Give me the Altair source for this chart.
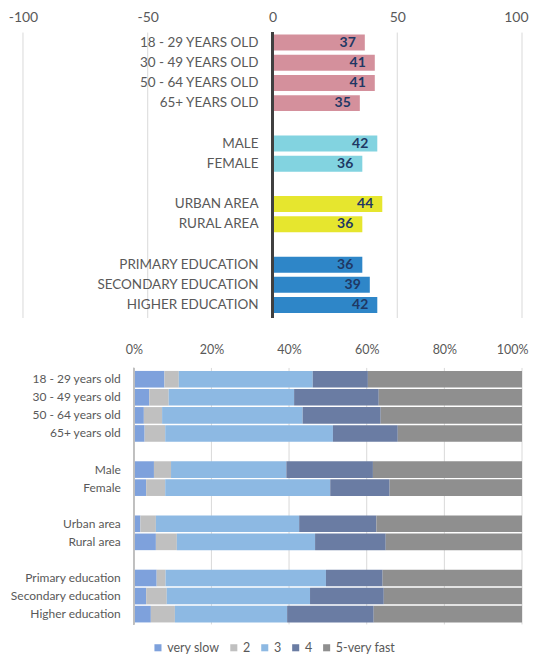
import altair as alt
import pandas as pd

# ---------------- data ----------------
top_labels = ["18 - 29 YEARS OLD", "30 - 49 YEARS OLD", "50 - 64 YEARS OLD", "65+ YEARS OLD",
              "MALE", "FEMALE", "URBAN AREA", "RURAL AREA",
              "PRIMARY EDUCATION", "SECONDARY EDUCATION", "HIGHER EDUCATION"]
top_values = [37, 41, 41, 35, 42, 36, 44, 36, 36, 39, 42]
top_groups = ["age", "age", "age", "age", "gender", "gender", "area", "area", "edu", "edu", "edu"]
group_names = ["age", "gender", "area", "edu"]
group_colors = ["#D4909C", "#82D3E0", "#E6E62E", "#2E86C8"]
top_ticks = [-100, -50, 0, 50, 100]

bottom_labels = ["18 - 29 years old", "30 - 49 years old", "50 - 64 years old", "65+ years old",
                 "Male", "Female", "Urban area", "Rural area",
                 "Primary education", "Secondary education", "Higher education"]
speed_levels = ["very slow", "2", "3", "4", "5-very fast"]
speed_colors = ["#7EA1DC", "#C0C0C0", "#8DB9E3", "#6A7CA3", "#8F8F8F"]
very_slow = [7.9, 4.0, 2.6, 2.8, 5.2, 3.2, 1.7, 5.7, 5.9, 3.2, 4.4]
level_2 = [3.7, 5.0, 4.7, 5.3, 4.4, 4.9, 4.0, 5.4, 2.3, 5.3, 6.2]
level_3 = [34.5, 32.3, 36.2, 43.2, 29.7, 42.5, 36.9, 35.6, 41.3, 36.9, 28.9]
level_4 = [14.2, 21.8, 20.1, 16.7, 22.3, 15.3, 19.9, 18.2, 14.6, 19.0, 22.3]
very_fast = [39.7, 36.9, 36.4, 32.0, 38.4, 34.1, 37.5, 35.1, 35.9, 35.6, 38.2]
bottom_ticks = [0, 0.2, 0.4, 0.6, 0.8, 1.0]

# slot order (with blank gap rows between groups)
def with_gaps(labels):
    return labels[:4] + ["gap1"] + labels[4:6] + ["gap2"] + labels[6:8] + ["gap3"] + labels[8:]

top_domain = with_gaps(top_labels)
bottom_domain = with_gaps(bottom_labels)

FONT = "Lato"
GREY = "#595959"
GRID = "#D9D9D9"

top_df = pd.DataFrame({"label": top_labels, "value": top_values, "group": top_groups})
top_grid_df = pd.DataFrame({"v": [t for t in top_ticks if t != 0]})

rows = []
series = [very_slow, level_2, level_3, level_4, very_fast]
for i, lab in enumerate(bottom_labels):
    for k, lev in enumerate(speed_levels):
        rows.append({"label": lab, "level": lev, "k": k, "pct": series[k][i]})
bottom_df = pd.DataFrame(rows)
bottom_lab_df = pd.DataFrame({"label": bottom_labels})
bottom_grid_df = pd.DataFrame({"v": [t for t in bottom_ticks if t != 0]})

# ---------------- top chart ----------------
W = 521
H_TOP = 312
xs_top = alt.Scale(domain=[-100, 100], range=[14, 514])
ys_top = alt.Scale(domain=top_domain, range=[24, 307], paddingInner=0.21, paddingOuter=0.1)

top_grid = alt.Chart(top_grid_df).mark_rule(color=GRID, strokeWidth=1).encode(
    x=alt.X("v:Q", scale=xs_top,
            axis=alt.Axis(orient="top", values=top_ticks, grid=False, domain=False, ticks=False,
                          offset=-16, labelPadding=0, labelFontSize=14, labelColor=GREY,
                          labelFont=FONT, labelFlush=False, title=None,
                          labelExpr="'' + datum.value",
                          labelAlign={"condition": {"test": "datum.value == 100", "value": "right"},
                                      "value": "center"},
                          labelOffset={"condition": {"test": "datum.value == 100", "value": 6},
                                       "value": 0})),
    y=alt.value(24), y2=alt.value(H_TOP - 2),
)

top_bars = alt.Chart(top_df).mark_bar().encode(
    x=alt.X("value:Q", scale=xs_top),
    y=alt.Y("label:N", scale=ys_top, axis=None),
    color=alt.Color("group:N", scale=alt.Scale(domain=group_names, range=group_colors), legend=None),
)

top_values_txt = alt.Chart(top_df).mark_text(align="right", baseline="middle", dx=-9, fontWeight="bold",
                                             fontSize=14, font=FONT, color="#1F3864").encode(
    x=alt.X("value:Q", scale=xs_top),
    y=alt.Y("label:N", scale=ys_top),
    text="value:Q",
)

top_cat_txt = alt.Chart(top_df).mark_text(align="right", baseline="middle", dx=-14,
                                          fontSize=13.5, font=FONT, color=GREY).encode(
    x=alt.datum(0, scale=xs_top),
    y=alt.Y("label:N", scale=ys_top),
    text="label:N",
)

top_zero = alt.Chart(top_df).mark_rule(color="#404040", strokeWidth=2.5).encode(
    x=alt.datum(0, scale=xs_top), y=alt.value(24), y2=alt.value(H_TOP - 2)
)

top = alt.layer(top_grid, top_bars, top_values_txt, top_cat_txt, top_zero).properties(
    width=W, height=H_TOP)

# ---------------- bottom chart ----------------
H_BOT = 287
xs_bot = alt.Scale(domain=[0, 1], range=[125, 514])
ys_bot = alt.Scale(domain=bottom_domain, range=[33, 285], paddingInner=0.08, paddingOuter=0)

bot_grid = alt.Chart(bottom_grid_df).mark_rule(color=GRID, strokeWidth=1).encode(
    x=alt.X("v:Q", scale=xs_bot,
            axis=alt.Axis(orient="top", values=bottom_ticks, format="%", grid=False, domain=False,
                          ticks=False, offset=-19, labelPadding=0, labelFontSize=12.5,
                          labelColor=GREY, labelFont=FONT, labelFlush=False, title=None,
                          labelAlign={"condition": {"test": "datum.value == 1", "value": "right"},
                                      "value": "center"},
                          labelOffset={"condition": {"test": "datum.value == 1", "value": 6},
                                       "value": 0})),
    y=alt.value(30), y2=alt.value(H_BOT),
)

bot_bars = alt.Chart(bottom_df).mark_bar().encode(
    x=alt.X("pct:Q", stack="normalize", scale=xs_bot),
    y=alt.Y("label:N", scale=ys_bot, axis=None),
    color=alt.Color("level:N", scale=alt.Scale(domain=speed_levels, range=speed_colors),
                    legend=alt.Legend(title=None, orient="none", direction="horizontal",
                                      legendX=143, legendY=304, symbolType="square",
                                      symbolSize=50, symbolStrokeWidth=0,
                                      labelFont=FONT, labelFontSize=12.5, labelColor=GREY,
                                      labelOffset=3, columnPadding=8)),
    order=alt.Order("k:Q", sort="ascending"),
)

bot_cat_txt = alt.Chart(bottom_lab_df).mark_text(align="right", baseline="middle", dx=-13,
                                                 fontSize=12, font=FONT, color=GREY).encode(
    x=alt.datum(0, scale=xs_bot),
    y=alt.Y("label:N", scale=ys_bot),
    text="label:N",
)

bot_zero = alt.Chart(bottom_lab_df).mark_rule(color="#BFBFBF", strokeWidth=1).encode(
    x=alt.datum(0, scale=xs_bot), y=alt.value(30), y2=alt.value(H_BOT)
)

bottom = alt.layer(bot_grid, bot_bars, bot_zero, bot_cat_txt).properties(width=W, height=H_BOT)

chart = alt.vconcat(top, bottom, spacing=18).resolve_scale(
    x="independent", y="independent", color="independent"
).properties(padding=0).configure(font=FONT).configure_view(stroke=None)

chart.save("out.html", embed_options={"renderer": "svg", "actions": False})
